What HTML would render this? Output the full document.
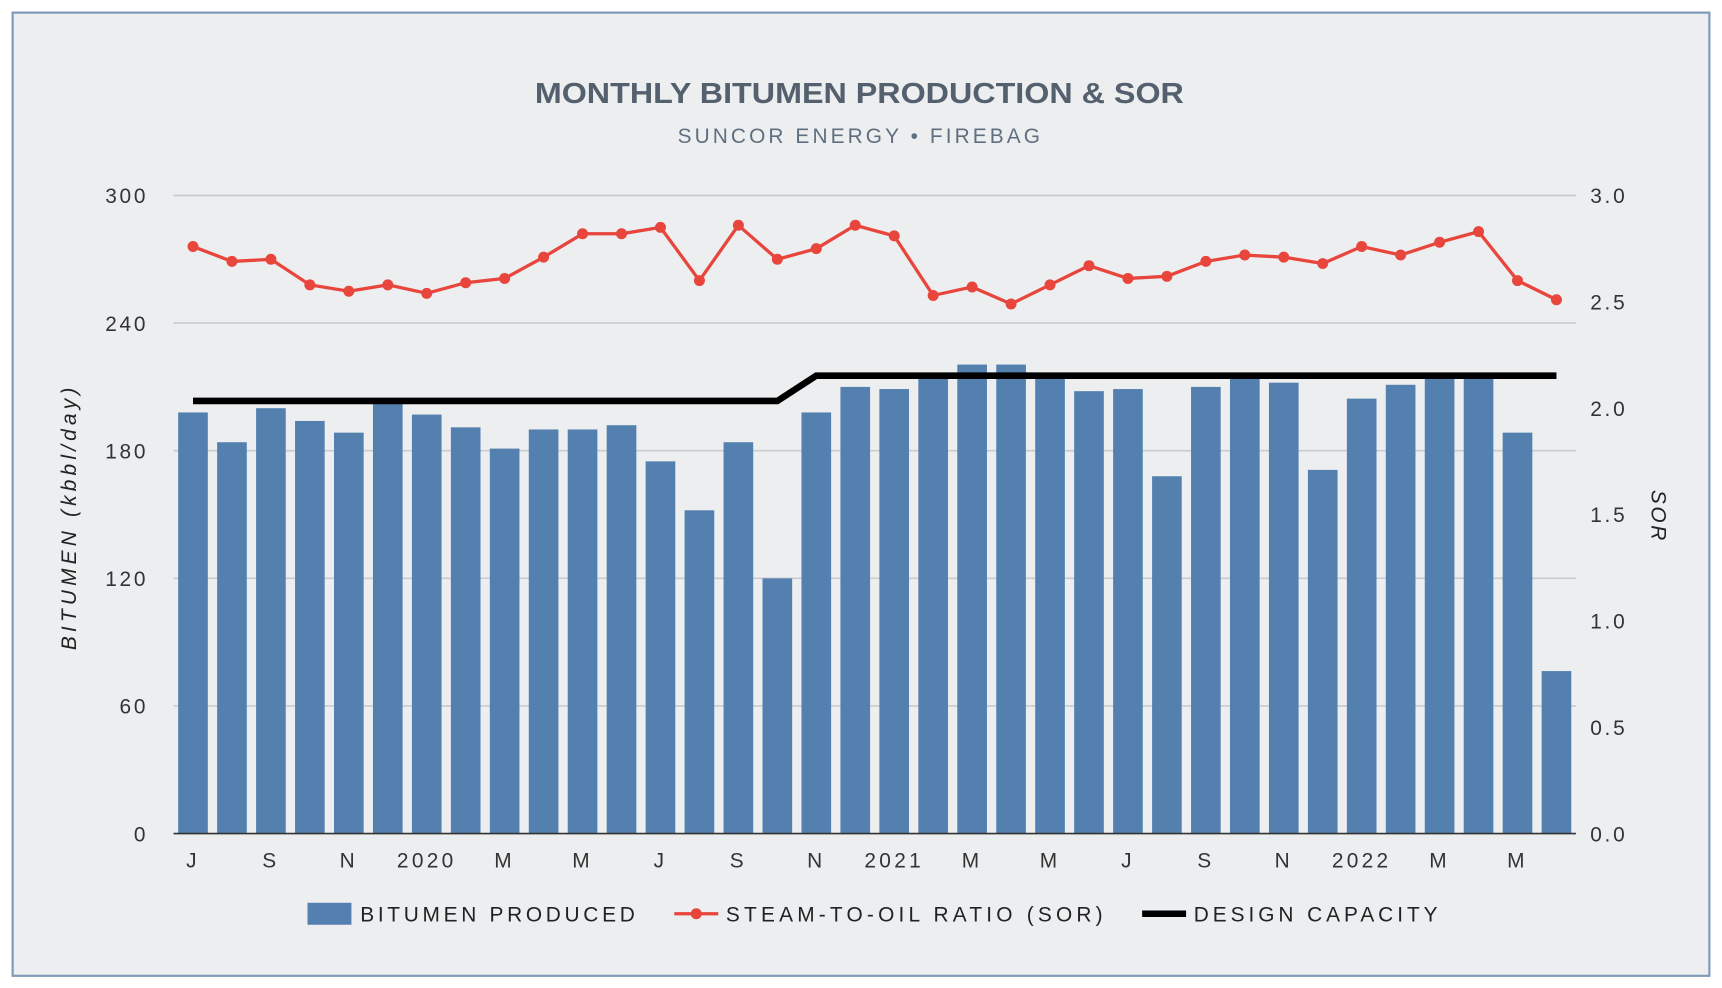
<!DOCTYPE html>
<html><head><meta charset="utf-8"><style>
html,body{margin:0;padding:0;background:#fff;}
svg{display:block;font-family:"Liberation Sans","DejaVu Sans",sans-serif;}
</style></head><body>
<svg id="chart" width="1722" height="988" viewBox="0 0 1568 899.6" preserveAspectRatio="none" xmlns="http://www.w3.org/2000/svg">
<rect x="11.5" y="11.5" width="1545" height="877" fill="#eceef0" stroke="#7f9bb8" stroke-width="2"/>
<text x="487" y="94" font-size="26" font-weight="bold" fill="#54606e" textLength="591" lengthAdjust="spacingAndGlyphs">MONTHLY BITUMEN PRODUCTION &amp; SOR</text>
<text x="617" y="130" font-size="19" fill="#5f6f80" textLength="330" lengthAdjust="spacing">SUNCOR ENERGY • FIREBAG</text>
<g id="grid"></g>
<g id="bars"></g>
<g id="cap"></g>
<g id="sor"></g>
<g id="axes"></g>
<text transform="translate(69,592) rotate(-90)" font-size="19" font-style="italic" fill="#222" textLength="239" lengthAdjust="spacing">BITUMEN (kbbl/day)</text>
<text transform="translate(1504,446) rotate(90)" font-size="19" font-style="italic" fill="#222" textLength="46" lengthAdjust="spacing">SOR</text>
<g>
<g>
<rect x="280" y="822" width="40" height="20" fill="#5480b0"/>
<text x="328" y="839" font-size="19" fill="#222" textLength="250" lengthAdjust="spacing">BITUMEN PRODUCED</text></g>
<g>
<line x1="614" y1="832" x2="654" y2="832" stroke="#e8453c" stroke-width="3"/>
<circle cx="634" cy="832" r="5" fill="#e8453c"/>
<text x="661" y="839" font-size="19" fill="#222" textLength="343" lengthAdjust="spacing">STEAM-TO-OIL RATIO (SOR)</text></g>
<g>
<line x1="1040" y1="832" x2="1080" y2="832" stroke="#000" stroke-width="6"/>
<text x="1087" y="839" font-size="19" fill="#222" textLength="222" lengthAdjust="spacing">DESIGN CAPACITY</text></g>
</g>
</svg>
<script>
const months = ["Jul19","Aug19","Sep19","Oct19","Nov19","Dec19","Jan20","Feb20","Mar20","Apr20","May20","Jun20","Jul20","Aug20","Sep20","Oct20","Nov20","Dec20","Jan21","Feb21","Mar21","Apr21","May21","Jun21","Jul21","Aug21","Sep21","Oct21","Nov21","Dec21","Jan22","Feb22","Mar22","Apr22","May22","Jun22"];
const bitumen = [198,184,200,194,188.5,203,197,191,181,190,190,192,175,152,184,120,198,210,209,214,220.5,220.5,214,208,209,168,210,214,212,171,204.5,211,214,214,188.5,76.4];
const sor = [2.76,2.69,2.70,2.58,2.55,2.58,2.54,2.59,2.61,2.71,2.82,2.82,2.85,2.60,2.86,2.70,2.75,2.86,2.81,2.53,2.57,2.49,2.58,2.67,2.61,2.62,2.69,2.72,2.71,2.68,2.76,2.72,2.78,2.83,2.60,2.51];
const capacity = [203.4,203.4,203.4,203.4,203.4,203.4,203.4,203.4,203.4,203.4,203.4,203.4,203.4,203.4,203.4,203.4,215.3,215.3,215.3,215.3,215.3,215.3,215.3,215.3,215.3,215.3,215.3,215.3,215.3,215.3,215.3,215.3,215.3,215.3,215.3,215.3];
const leftTicks = [0,60,120,180,240,300];
const rightTicks = ["0.0","0.5","1.0","1.5","2.0","2.5","3.0"];
const xTickLabels = ["J","S","N","2020","M","M","J","S","N","2021","M","M","J","S","N","2022","M","M"];

const NS="http://www.w3.org/2000/svg";
const X0=158,X1=1435,YT=178,YB=759;
const band=(X1-X0)/months.length;
const xC=i=>X0+band*(i+0.5);
const yL=v=>YB-(v/300)*(YB-YT);
const yR=v=>YB-(v/3)*(YB-YT);
function mk(tag,attrs,parent){const e=document.createElementNS(NS,tag);for(const k in attrs)e.setAttribute(k,attrs[k]);parent.appendChild(e);return e;}
const grid=document.getElementById('grid'),bars=document.getElementById('bars'),cap=document.getElementById('cap'),sorG=document.getElementById('sor'),axes=document.getElementById('axes');
leftTicks.forEach(v=>{
  if(v>0){const l=mk('line',{x1:X0,x2:X1,y1:yL(v),y2:yL(v),stroke:'#c9cbce','stroke-width':1.5},grid);
  
  }
  const t=mk('text',{x:135,y:yL(v)+7,'text-anchor':'end','font-size':19,fill:'#333','letter-spacing':2.5},axes);
  t.textContent=v;
  
  
});
rightTicks.forEach(s=>{
  const t=mk('text',{x:1448,y:yR(parseFloat(s))+7,'font-size':19,fill:'#333','letter-spacing':2.5},axes);
  t.textContent=s;
  
  
});
bitumen.forEach((v,i)=>{
  const r=mk('rect',{x:xC(i)-13.5,y:yL(v),width:27,height:YB-yL(v),fill:'#5480b0'},bars);
  
  
});
const base=mk('line',{x1:X0,x2:X1,y1:YB,y2:YB,stroke:'#333','stroke-width':1.5},axes);


xTickLabels.forEach((s,k)=>{
  const t=mk('text',{x:xC(k*2),y:790,'text-anchor':'middle','font-size':19,fill:'#333','letter-spacing':3},axes);
  t.textContent=s;
  
  
});
const capPath=mk('polyline',{points:capacity.map((v,i)=>xC(i)+','+yL(v)).join(' '),fill:'none',stroke:'#000','stroke-width':6},cap);


const sorPath=mk('polyline',{points:sor.map((v,i)=>xC(i)+','+yR(v)).join(' '),fill:'none',stroke:'#e8453c','stroke-width':3},sorG);


sor.forEach((v,i)=>{
  const c=mk('circle',{cx:xC(i),cy:yR(v),r:5,fill:'#e8453c'},sorG);
  
  
});
</script>
</body></html>
